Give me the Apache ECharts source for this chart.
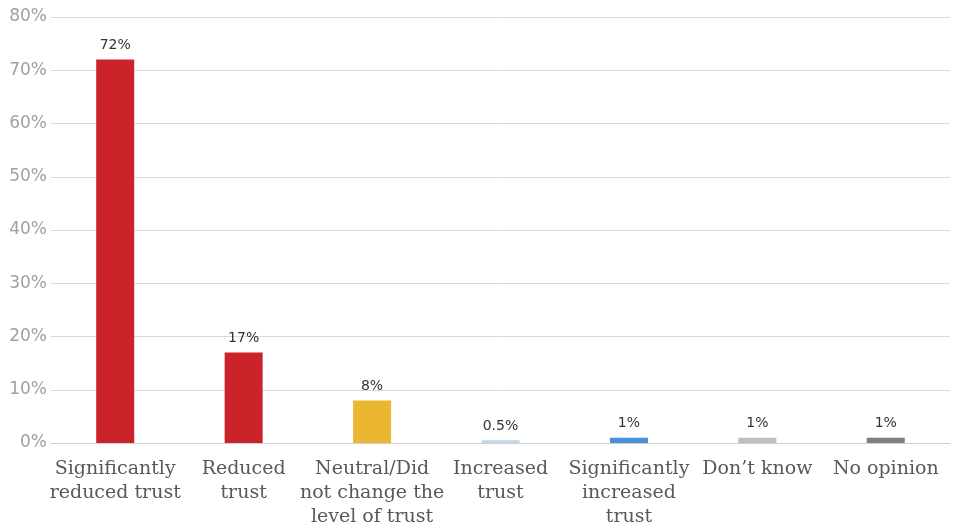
<!DOCTYPE html>
<html>
<head>
<meta charset="utf-8">
<script src="https://cdn.jsdelivr.net/npm/echarts@6/dist/echarts.min.js"></script>
<style>
  html, body { margin: 0; padding: 0; background: #fff; }
  #chart { width: 962px; height: 530px; }
</style>
</head>
<body>
<div id="chart"></div>
<script>
// Survey answers: effect on level of trust
const categories = [
  'Significantly\nreduced trust',
  'Reduced\ntrust',
  'Neutral/Did\nnot change the\nlevel of trust',
  'Increased\ntrust',
  'Significantly\nincreased\ntrust',
  'Don\u2019t know',
  'No opinion'
];
const shares = [72, 17, 8, 0.5, 1, 1, 1];
const barColors = ['#CC2229', '#CC2229', '#EBB733', '#BDD7EE', '#4A90D9', '#BFBFBF', '#7F7F7F'];
const yTicks = { min: 0, max: 80, step: 10 };

const chart = echarts.init(document.getElementById('chart'), null, { renderer: 'canvas' });
chart.setOption({
  animation: false,
  grid: { left: 51, right: 12, top: 17, bottom: 87, containLabel: false },
  xAxis: {
    type: 'category',
    data: categories,
    axisTick: { show: false },
    axisLine: { show: true, lineStyle: { color: '#D0D0D0', width: 1 } },
    axisLabel: {
      interval: 0,
      margin: 14,
      color: '#595959',
      fontFamily: '"DejaVu Serif", serif',
      fontSize: 19,
      lineHeight: 24
    }
  },
  yAxis: {
    type: 'value',
    min: yTicks.min,
    max: yTicks.max,
    interval: yTicks.step,
    axisLine: { show: false },
    axisTick: { show: false },
    splitLine: { lineStyle: { color: '#D9D9D9', width: 1 } },
    axisLabel: {
      formatter: '{value}%',
      color: '#A0A0A0',
      fontFamily: '"DejaVu Sans", sans-serif',
      fontSize: 17,
      margin: 4
    }
  },
  series: [{
    type: 'bar',
    barWidth: 38,
    data: shares.map((v, i) => ({ value: v, itemStyle: { color: barColors[i] } })),
    label: {
      show: true,
      position: 'top',
      distance: 7,
      formatter: p => p.value + '%',
      color: '#333333',
      fontFamily: '"DejaVu Sans", sans-serif',
      fontSize: 14
    }
  }]
});
</script>
</body>
</html>
